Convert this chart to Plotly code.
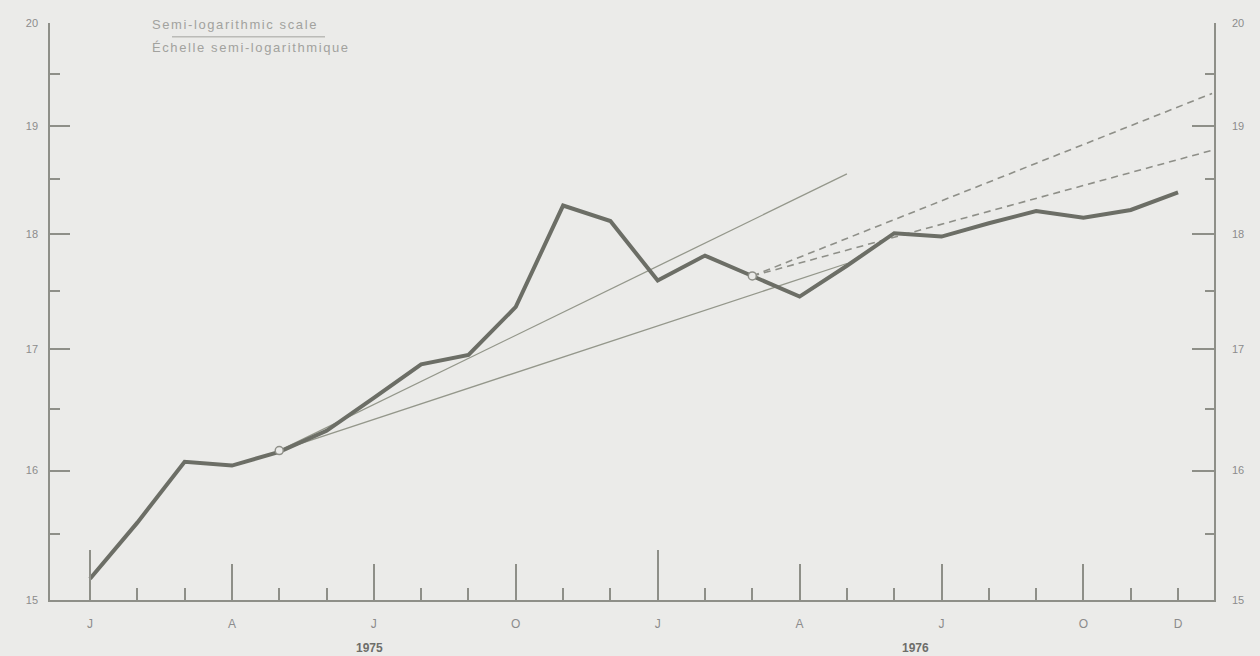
import plotly.graph_objects as go
import math

# ---------------- data ----------------
months = list(range(24))  # Jan 1975 .. Dec 1976 (index)
values = [15.16, 15.59, 16.07, 16.04, 16.15, 16.32, 16.59, 16.87, 16.95, 17.36,
          18.26, 18.12, 17.59, 17.81, 17.63, 17.45, 17.72, 18.01, 17.98, 18.10,
          18.21, 18.15, 18.22, 18.38]

circle_x = [4, 14]
circle_y = [16.16, 17.63]

trend_steep_x = [4, 16]
trend_steep_y = [16.16, 18.55]
trend_flat_x = [4, 16]
trend_flat_y = [16.16, 17.74]
proj_upper_x = [14, 23.72]
proj_upper_y = [17.63, 19.31]
proj_lower_x = [14, 23.72]
proj_lower_y = [17.63, 18.77]

tick_label_pos = [0, 3, 6, 9, 12, 15, 18, 21, 23]
tick_label_text = ["J", "A", "J", "O", "J", "A", "J", "O", "D"]
quarter_ticks = [3, 6, 9, 15, 18, 21]
year_ticks = [0, 12]
year_labels = ["1975", "1976"]
year_label_pos = [5.9, 17.45]

y_major = [15, 16, 17, 18, 19, 20]
y_minor = [15.5, 16.5, 17.5, 18.5, 19.5]

# ---------------- style ----------------
BG = "#ebebe9"
AX = "#8e8f88"
MAIN = "#6c6e66"
THIN = "#94978b"
LBL = "#8c8c8c"
CAP = "#a2a29e"
FONT = "Liberation Sans, Arial, sans-serif"

OFF = 8  # page body margin of the browser
W, H = 1260 - OFF, 656 - OFF
L, R, T, B = 50 - OFF, 46, 17 - OFF, 56
xr = [-0.846, 23.76]
yr = [math.log10(15), math.log10(20)]

fig = go.Figure()

# projections (dashed)
for xs, ys in [(proj_upper_x, proj_upper_y), (proj_lower_x, proj_lower_y)]:
    fig.add_trace(go.Scatter(x=xs, y=ys, mode="lines",
                             line=dict(color=AX, width=1.6, dash="7px,5px"),
                             hoverinfo="skip", showlegend=False))
# trend lines
for xs, ys in [(trend_steep_x, trend_steep_y), (trend_flat_x, trend_flat_y)]:
    fig.add_trace(go.Scatter(x=xs, y=ys, mode="lines",
                             line=dict(color=THIN, width=1.3),
                             hoverinfo="skip", showlegend=False))
# main series
fig.add_trace(go.Scatter(x=months, y=values, mode="lines",
                         line=dict(color=MAIN, width=4),
                         hoverinfo="skip", showlegend=False))
# circles
fig.add_trace(go.Scatter(x=circle_x, y=circle_y, mode="markers",
                         marker=dict(symbol="circle", size=8, color=BG,
                                     line=dict(color=AX, width=1.5)),
                         hoverinfo="skip", showlegend=False))
# dummy traces for overlay axes
fig.add_trace(go.Scatter(x=[None], y=[None], xaxis="x2", yaxis="y", showlegend=False, hoverinfo="skip"))
fig.add_trace(go.Scatter(x=[None], y=[None], xaxis="x3", yaxis="y", showlegend=False, hoverinfo="skip"))
fig.add_trace(go.Scatter(x=[None], y=[None], xaxis="x", yaxis="y2", showlegend=False, hoverinfo="skip"))

tickfont = dict(family=FONT, size=12, color=LBL)
yfont = dict(family=FONT, size=11, color=LBL)

fig.update_layout(
    width=W, height=H,
    margin=dict(l=L, r=R, t=T, b=B, pad=0),
    paper_bgcolor=BG, plot_bgcolor=BG,
    showlegend=False,
    xaxis=dict(range=xr, tickmode="array", tickvals=tick_label_pos, ticktext=tick_label_text,
               ticks="", showgrid=False, zeroline=False, showline=True, linecolor=AX, linewidth=1.5,
               tickfont=tickfont, ticklabelstandoff=12,
               minor=dict(tickmode="array", tickvals=months, ticks="inside", ticklen=12,
                          tickcolor=AX, tickwidth=1.5, showgrid=False)),
    xaxis2=dict(range=xr, overlaying="x", side="bottom", anchor="y", tickmode="array",
                tickvals=quarter_ticks, ticks="inside", ticklen=36, tickcolor=AX, tickwidth=1.5,
                showticklabels=False, showgrid=False, zeroline=False, showline=False),
    xaxis3=dict(range=xr, overlaying="x", side="bottom", anchor="y", tickmode="array",
                tickvals=year_ticks, ticks="inside", ticklen=50, tickcolor=AX, tickwidth=1.5,
                showticklabels=False, showgrid=False, zeroline=False, showline=False),
    yaxis=dict(type="log", range=yr, tickmode="array", tickvals=y_major,
               ticktext=[str(v) for v in y_major], ticks="inside", ticklen=20, tickcolor=AX,
               tickwidth=1.5, showgrid=False, zeroline=False, showline=True, linecolor=AX,
               linewidth=1.5, tickfont=yfont, ticklabelstandoff=8,
               minor=dict(tickmode="array", tickvals=y_minor, ticks="inside", ticklen=10,
                          tickcolor=AX, tickwidth=1.5, showgrid=False)),
    yaxis2=dict(type="log", range=yr, overlaying="y", side="right", anchor="x", tickmode="array",
                tickvals=y_major, ticktext=[str(v) for v in y_major], ticks="inside", ticklen=22,
                tickcolor=AX, tickwidth=1.5, showgrid=False, zeroline=False, showline=True,
                linecolor=AX, linewidth=1.5, tickfont=yfont, ticklabelstandoff=14,
                minor=dict(tickmode="array", tickvals=y_minor, ticks="inside", ticklen=9,
                           tickcolor=AX, tickwidth=1.5, showgrid=False)),
)

# helpers: page pixel -> paper coordinates
def px_to_paper_x(px):
    return (px - OFF - L) / (W - L - R)

def px_to_paper_y(py):
    return (H - B - (py - OFF)) / (H - T - B)

# year labels
for xv, txt in zip(year_label_pos, year_labels):
    fig.add_annotation(x=xv, xref="x", y=px_to_paper_y(648), yref="paper", text="<b>" + txt + "</b>",
                       showarrow=False, xanchor="center", yanchor="middle",
                       font=dict(family=FONT, size=12, color="#6e6e6a"))

# scale caption (letter-spaced like the printed original)
cap_style = "letter-spacing:1.6px"
fig.add_annotation(x=px_to_paper_x(150), xref="paper", y=px_to_paper_y(19), yref="paper",
                   text="<span style='%s'>Semi-logarithmic scale</span>" % cap_style,
                   showarrow=False, xanchor="left", yanchor="middle",
                   font=dict(family=FONT, size=13, color=CAP))
fig.add_annotation(x=px_to_paper_x(150), xref="paper", y=px_to_paper_y(42), yref="paper",
                   text="<span style='%s'>Échelle semi-logarithmique</span>" % cap_style,
                   showarrow=False, xanchor="left", yanchor="middle",
                   font=dict(family=FONT, size=13, color=CAP))
fig.add_shape(type="line", xref="paper", yref="paper",
              x0=px_to_paper_x(172), x1=px_to_paper_x(325),
              y0=px_to_paper_y(31), y1=px_to_paper_y(31),
              line=dict(color=CAP, width=1))

fig.write_html("out.html", post_script="document.body.style.background='%s';" % BG)
